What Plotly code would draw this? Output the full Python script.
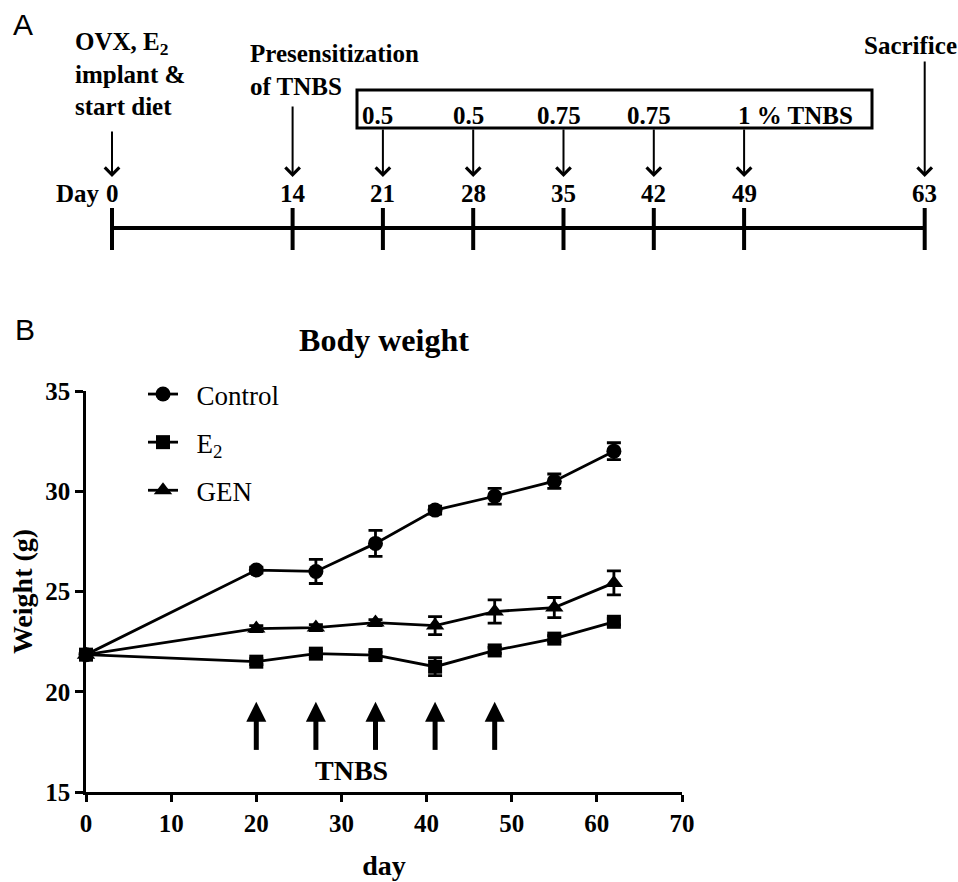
import plotly.graph_objects as go

W, H = 958, 882

# ---------------- Panel B data ----------------
days = [0, 20, 27, 34, 41, 48, 55, 62]
control = [21.85, 26.07, 26.0, 27.4, 29.06, 29.75, 30.5, 32.0]
control_err = [0.15, 0.15, 0.6, 0.65, 0.2, 0.39, 0.36, 0.42]
e2 = [21.85, 21.5, 21.9, 21.83, 21.25, 22.06, 22.65, 23.49]
e2_err = [0.15, 0.15, 0.15, 0.15, 0.45, 0.15, 0.15, 0.15]
gen = [21.85, 23.15, 23.2, 23.45, 23.3, 24.0, 24.2, 25.43]
gen_err = [0.15, 0.15, 0.15, 0.15, 0.45, 0.58, 0.5, 0.6]
tnbs_days = [20, 27, 34, 41, 48]
x_ticks = [0, 10, 20, 30, 40, 50, 60, 70]
y_ticks = [15, 20, 25, 30, 35]

# ---------------- Panel A data ----------------
timeline_days = [0, 14, 21, 28, 35, 42, 49, 63]
dose_days = [21, 28, 35, 42, 49]
dose_labels = ["0.5", "0.5", "0.75", "0.75", "1 % TNBS"]

SERIF = "Liberation Serif"
BLACK = "#000000"


def px_x(p):
    return p / W


def px_y(p):
    return (H - p) / H


fig = go.Figure()

series = [
    ("Control", control, control_err, "circle", 15),
    ("E<sub>2</sub>", e2, e2_err, "square", 14),
    ("GEN", gen, gen_err, "triangle-up", 16),
]
for name, vals, errs, sym, size in series:
    fig.add_trace(go.Scatter(
        x=days, y=vals, name="&nbsp;&nbsp;" + name, mode="lines+markers",
        line=dict(color=BLACK, width=2.8),
        marker=dict(symbol=sym, size=size, color=BLACK),
        error_y=dict(type="data", array=errs, visible=True, color=BLACK,
                     thickness=2.8, width=7),
        cliponaxis=False, legendgroup=name,
        xaxis="x", yaxis="y",
    ))

# TNBS injection arrows (panel B): shafts + filled heads
sx, sy = [], []
for d in tnbs_days:
    sx += [d, d, None]
    sy += [17.1, 18.7, None]
fig.add_trace(go.Scatter(
    x=sx, y=sy, mode="lines", line=dict(color=BLACK, width=5),
    showlegend=False, hoverinfo="skip", cliponaxis=False, xaxis="x", yaxis="y",
))
fig.add_trace(go.Scatter(
    x=tnbs_days, y=[19.5] * len(tnbs_days), mode="markers",
    marker=dict(symbol="arrow-up", size=20, color=BLACK, line=dict(width=0)),
    showlegend=False, hoverinfo="skip", cliponaxis=False, xaxis="x", yaxis="y",
))

# ---------------- Panel A timeline ----------------
fig.add_trace(go.Scatter(
    x=[timeline_days[0], timeline_days[-1]], y=[228, 228], mode="lines",
    line=dict(color=BLACK, width=4), showlegend=False, hoverinfo="skip",
    xaxis="x2", yaxis="y2",
))
tx, ty = [], []
for d in timeline_days:
    tx += [d, d, None]
    ty += [208, 250, None]
fig.add_trace(go.Scatter(
    x=tx, y=ty, mode="lines", line=dict(color=BLACK, width=4),
    showlegend=False, hoverinfo="skip", xaxis="x2", yaxis="y2",
))

annotations = []
bold = dict(family=SERIF, size=25, color=BLACK, weight="bold")

# day labels
for d in timeline_days:
    annotations.append(dict(x=d, y=193, xref="x2", yref="y2", text=str(d),
                            showarrow=False, font=bold, yanchor="middle"))
annotations.append(dict(x=timeline_days[0], y=193, xref="x2", yref="y2", text="Day",
                        showarrow=False, font=bold, xanchor="right", yanchor="middle",
                        xshift=-10))

# down arrows
arrow_tails = {0: 130, 14: 105, 63: 60}
for d in [0, 14] + dose_days + [63]:
    tail = arrow_tails.get(d, 128)
    annotations.append(dict(
        x=d, y=177, ax=d, ay=tail, xref="x2", yref="y2", axref="x2", ayref="y2",
        text="", showarrow=True, arrowhead=4, arrowsize=1.4, arrowwidth=2,
        arrowcolor=BLACK, standoff=0,
    ))

# dose labels in the box
for d, lab in zip(dose_days, dose_labels):
    if lab.endswith("TNBS"):
        annotations.append(dict(x=d, y=115, xref="x2", yref="y2", text=lab,
                                showarrow=False, font=bold, xanchor="left",
                                yanchor="middle", xshift=-8))
    else:
        annotations.append(dict(x=d, y=115, xref="x2", yref="y2", text=lab,
                                showarrow=False, font=bold, xanchor="center",
                                yanchor="middle", xshift=-5))

annotations.append(dict(x=px_x(73), y=26, xref="paper", yref="y2",
                        text="OVX, E<sub>2</sub><br>implant &amp;<br>start diet",
                        showarrow=False, font=bold, xanchor="left", yanchor="top",
                        align="left"))
annotations.append(dict(x=px_x(248), y=38, xref="paper", yref="y2",
                        text="Presensitization<br>of TNBS",
                        showarrow=False, font=bold, xanchor="left", yanchor="top",
                        align="left"))
annotations.append(dict(x=timeline_days[-1], y=45, xref="x2", yref="y2", text="Sacrifice",
                        showarrow=False, font=bold, xanchor="center", yanchor="middle",
                        xshift=-14))

# panel letters
annotations.append(dict(x=px_x(11), y=px_y(24), xref="paper", yref="paper", text="A",
                        showarrow=False, xanchor="left", yanchor="middle",
                        font=dict(family="Liberation Sans", size=30, color=BLACK)))
annotations.append(dict(x=px_x(13), y=px_y(329), xref="paper", yref="paper", text="B",
                        showarrow=False, xanchor="left", yanchor="middle",
                        font=dict(family="Liberation Sans", size=30, color=BLACK)))

annotations.append(dict(x=px_x(351), y=px_y(770), xref="paper", yref="paper", text="TNBS",
                        showarrow=False, xanchor="center", yanchor="middle",
                        font=dict(family=SERIF, size=28, color=BLACK, weight="bold")))

shapes = [dict(type="rect", xref="paper", yref="y2", x0=px_x(357), x1=px_x(872),
               y0=90, y1=128, line=dict(color=BLACK, width=3))]

x2_dom = [px_x(112 - 12.9), px_x(112 + 12.9 * 64)]

fig.update_layout(
    width=W, height=H,
    margin=dict(l=0, r=0, t=0, b=0, autoexpand=False),
    paper_bgcolor="white", plot_bgcolor="white",
    title=dict(text="Body weight", x=px_x(384), xanchor="center",
               y=px_y(340), yanchor="middle",
               font=dict(family=SERIF, size=32, color=BLACK, weight="bold")),
    xaxis=dict(domain=[px_x(86), px_x(682)], range=[0, 70], tickvals=x_ticks,
               showline=True, linecolor=BLACK, linewidth=2.5, ticks="outside",
               ticklen=7, tickwidth=2.5, tickcolor=BLACK, showgrid=False,
               zeroline=False, anchor="y", automargin=False,
               tickfont=dict(family=SERIF, size=25, color=BLACK, weight="bold"),
               title=dict(text="day", standoff=20,
                          font=dict(family=SERIF, size=28, color=BLACK, weight="bold"))),
    yaxis=dict(domain=[px_y(792), px_y(391)], range=[15, 35], tickvals=y_ticks,
               showline=True, linecolor=BLACK, linewidth=2.5, ticks="outside",
               ticklen=8, tickwidth=2.5, tickcolor=BLACK, showgrid=False,
               zeroline=False, anchor="x", automargin=False,
               tickfont=dict(family=SERIF, size=25, color=BLACK, weight="bold"),
               title=dict(text="Weight (g)", standoff=5,
                          font=dict(family=SERIF, size=28, color=BLACK, weight="bold"))),
    xaxis2=dict(domain=x2_dom, range=[-1, 64], visible=False, anchor="y2",
                automargin=False),
    yaxis2=dict(domain=[px_y(262), 1.0], range=[262, 0], visible=False, anchor="x2",
                automargin=False),
    legend=dict(x=px_x(143), xanchor="left", y=px_y(370), yanchor="top",
                font=dict(family=SERIF, size=27, color=BLACK),
                bgcolor="rgba(0,0,0,0)", tracegroupgap=10, traceorder="grouped"),
    annotations=annotations,
    shapes=shapes,
    showlegend=True,
)

fig.write_html("out.html",
               config={"displayModeBar": False},
               post_script="document.body.style.margin='0px';"
                           "document.body.style.overflow='hidden';")
